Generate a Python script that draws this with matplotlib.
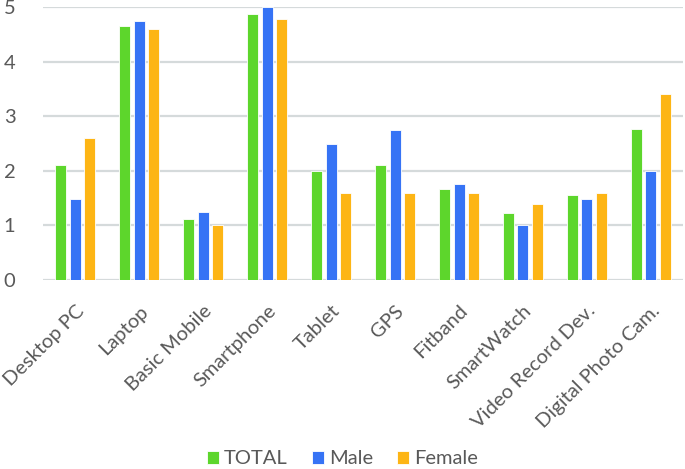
import numpy as np
import matplotlib
matplotlib.use('Agg')
import matplotlib.pyplot as plt

categories = ['Desktop PC', 'Laptop', 'Basic Mobile', 'Smartphone', 'Tablet', 'GPS',
              'Fitband', 'SmartWatch', 'Video Record Dev.', 'Digital Photo Cam.']
total = [2.11, 4.66, 1.12, 4.88, 1.99, 2.11, 1.66, 1.22, 1.55, 2.76]
male = [1.49, 4.74, 1.25, 5.00, 2.49, 2.74, 1.76, 1.01, 1.49, 1.99]
female = [2.60, 4.60, 1.01, 4.78, 1.60, 1.60, 1.60, 1.39, 1.60, 3.40]

plt.rcParams['font.family'] = ['Lato', 'DejaVu Sans']
text_color = '#595959'

fig = plt.figure(figsize=(6.85, 4.69), dpi=100)
ax = fig.add_axes([0.063, 0.403, 0.934, 0.582])

x = np.arange(len(categories))
w = 0.172
step = 0.224
ax.bar(x - step, total, w, color='#5DD62C', edgecolor='white', linewidth=0.6, label='TOTAL', zorder=3)
ax.bar(x, male, w, color='#3673F5', edgecolor='white', linewidth=0.6, label='Male', zorder=3)
ax.bar(x + step, female, w, color='#FDB515', edgecolor='white', linewidth=0.6, label='Female', zorder=3)

ax.set_xlim(-0.5, len(categories) - 0.5)
ax.set_ylim(0, 5)
ax.set_yticks(range(6))
ax.grid(axis='y', color='#D5DADB', linewidth=1.6, zorder=0)
for s in ax.spines.values():
    s.set_visible(False)

ax.set_xticks(x)
ax.set_xticklabels(categories, rotation=45, ha='right', rotation_mode='anchor')
ax.tick_params(axis='both', length=0, labelsize=14.5, colors=text_color)
ax.tick_params(axis='y', pad=20)
ax.tick_params(axis='x', pad=16)

fig.legend(loc='lower center', bbox_to_anchor=(0.5, -0.035), ncol=3, frameon=False,
           fontsize=14.5, labelcolor=text_color, handlelength=0.6, handleheight=0.6,
           handletextpad=0.25, columnspacing=1.2)

plt.savefig('out.png', dpi=100)
